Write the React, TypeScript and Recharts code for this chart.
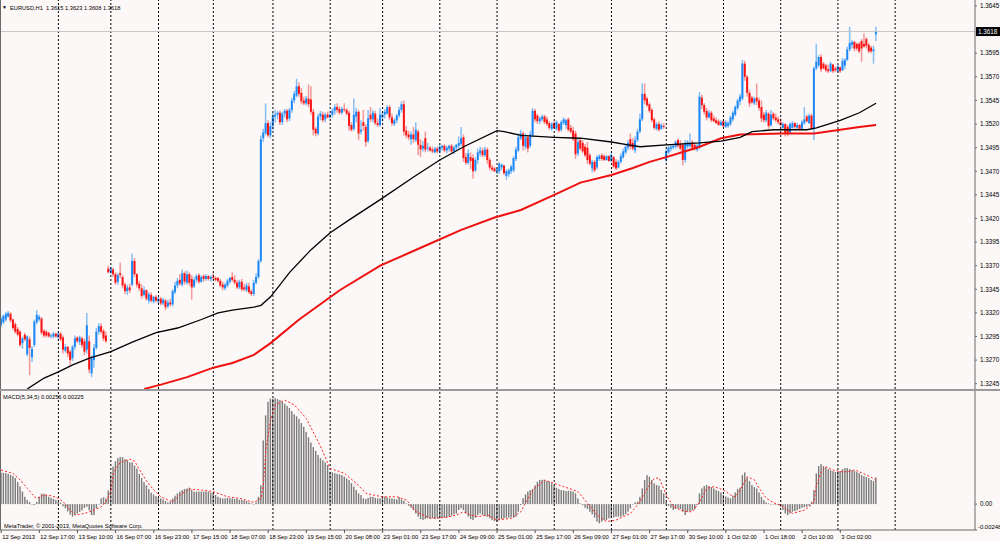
import React from "react";
import { ComposedChart, Bar, Line, XAxis, YAxis, ReferenceLine } from "recharts";

// EURUSD H1, 12 Sep - 3 Oct 2013.
// Prices are pips above 1.3000 (e.g. 618 -> 1.3618), MACD in units of 0.0001.

const FONT = "'Liberation Sans', 'DejaVu Sans', Arial, sans-serif";
const BG = "#FCF8F7";

// [open, high, low, close] per hourly bar
const ohlc: number[][] = [
  // 12-13 Sep
  [307,316,305,314],[310,318,308,317],[313,321,311,319],[316,322,315,320],[319,321,310,312],
  [313,314,302,304],[308,310,298,300],[303,305,295,297],[300,302,284,286],[288,295,282,293],
  [297,299,290,292],[276,296,274,295],[292,295,254,283],[273,285,268,282],[286,313,284,311],
  [310,323,308,318],[313,318,311,316],[314,316,297,299],[301,303,294,296],[300,302,294,296],
  [299,300,294,295],[295,298,293,296],[295,300,293,298],[298,299,294,295],[294,299,293,298],
  [298,300,290,292],[294,296,277,281],[280,287,278,284],[284,285,273,277],[279,281,265,270],
  [272,286,269,284],[284,296,281,293],[294,295,288,290],[289,296,286,294],[293,295,283,286],
  [290,293,275,279],[281,320,277,307],[290,296,256,260],[256,275,252,272],[270,287,262,283],
  [283,304,281,300],[300,309,297,306],[306,309,298,300],[301,303,290,293],[296,300,288,290],
  // 16-18 Sep
  [367,370,362,363],[363,369,361,367],[366,368,358,361],[361,363,350,352],[353,362,350,360],
  [362,373,357,360],[358,360,346,349],[350,352,340,343],[343,350,339,347],[347,351,341,344],
  [350,383,348,375],[375,378,358,361],[361,362,347,350],[351,354,343,346],[346,350,335,338],
  [339,348,337,344],[344,345,333,335],[333,342,330,340],[339,342,331,333],[332,338,330,337],
  [337,339,331,333],[332,337,329,335],[335,337,328,330],[330,336,328,334],[333,335,323,326],
  [327,334,325,331],[331,335,327,329],[329,345,327,343],[342,353,340,349],[349,357,346,354],
  [355,361,349,351],[350,366,348,362],[362,364,350,353],[352,365,350,361],[361,363,349,352],
  [356,360,334,347],[348,358,346,355],[355,361,352,359],[360,362,351,353],[353,360,352,358],
  [359,361,353,356],[356,361,354,359],[359,360,354,356],[356,360,353,358],[358,362,355,357],
  [357,359,353,355],[357,358,352,354],[354,356,347,349],[350,353,344,347],[346,352,344,350],
  [349,356,347,354],[353,358,351,357],[358,363,353,355],[355,360,350,352],[352,355,345,347],
  [347,355,345,353],[353,356,343,345],[347,351,343,345],[344,352,342,349],[348,352,340,342],
  [343,345,338,340],[340,355,338,352],[352,362,350,358],[358,377,356,375],[375,508,373,504],
  // 18-20 Sep
  [505,515,501,511],[510,542,508,521],[521,524,506,508],[508,522,505,518],[518,532,514,528],
  [528,535,522,530],[530,534,525,532],[532,534,519,522],[522,533,519,531],[531,536,527,534],
  [534,536,522,525],[526,537,523,535],[535,548,532,545],[545,555,542,552],[550,568,548,560],
  [560,564,549,552],[553,558,541,544],[545,549,540,542],[542,550,540,547],[547,562,538,541],
  [546,560,530,533],[533,536,508,514],[515,517,507,510],[510,531,508,528],[528,534,524,531],
  [530,533,522,524],[525,532,522,530],[530,533,526,527],[527,531,526,530],[530,537,527,534],
  [534,541,530,538],[538,542,532,535],[536,539,530,532],[532,538,530,536],[536,542,533,535],
  [535,537,529,531],[532,534,513,518],[519,522,512,514],[515,547,513,530],[528,537,522,533],
  [533,535,503,510],[512,524,509,514],[522,535,513,518],[517,520,496,501],[502,535,500,526],
  [530,538,522,525],[525,535,522,532],[531,534,519,521],[521,526,517,519],[519,537,517,530],
  // 23-24 Sep
  [527,533,523,530],[530,536,526,533],[531,540,530,538],[538,540,524,527],[527,531,518,521],
  [520,526,518,524],[524,531,521,529],[529,538,527,535],[535,544,532,541],[541,545,508,512],
  [513,518,505,508],[509,513,503,506],[504,512,498,509],[509,517,500,504],[503,522,501,514],
  [512,514,487,498],[498,504,485,493],[494,502,491,497],[505,512,490,493],[494,500,491,495],
  [495,497,491,492],[493,496,489,491],[490,496,489,494],[494,496,489,491],[491,498,489,496],
  [495,498,492,497],[497,499,490,492],[492,497,489,495],[494,498,491,497],[497,499,489,491],
  [491,497,488,495],[495,499,492,498],[497,507,494,500],[499,517,497,505],[506,509,480,484],
  [485,489,477,479],[479,493,477,489],[485,490,472,481],[484,488,462,470],[471,485,469,482],
  [482,494,478,490],[489,496,486,492],[492,495,485,487],[487,496,485,493],[493,495,478,482],
  [482,484,471,474],[474,477,470,472],[473,475,469,470],[470,474,467,472],
  // 25-27 Sep
  [470,480,467,478],[474,478,471,477],[476,477,466,468],[465,472,461,470],[467,473,464,471],
  [470,477,467,475],[471,486,469,484],[483,496,481,493],[492,510,490,506],[505,514,503,510],
  [510,512,492,497],[496,510,493,506],[506,508,490,494],[497,513,495,509],[508,537,506,534],
  [534,536,522,525],[529,531,520,523],[523,528,520,526],[525,530,523,528],[528,530,520,522],
  [525,528,518,520],[521,523,514,516],[515,522,513,520],[521,523,515,516],[515,524,513,522],
  [520,521,511,513],[514,524,512,522],[521,527,519,525],[519,526,515,524],[525,527,512,514],
  [516,519,510,512],[513,517,502,504],[510,513,483,488],[489,505,486,501],[503,505,492,494],
  [500,503,489,491],[496,499,485,487],[495,501,478,482],[487,489,476,478],[473,482,469,480],
  [480,482,469,471],[474,487,472,485],[483,488,481,486],[487,489,481,483],[486,488,481,482],
  [482,487,481,486],[486,487,480,481],[481,489,480,487],[485,486,473,475],[480,483,471,473],
  [474,482,473,480],[480,489,478,486],[485,494,483,491],[490,498,488,496],[495,503,492,500],
  [504,510,493,496],[500,505,492,494],[492,507,489,503],[503,515,501,512],[512,531,510,525],
  [525,563,523,552],[552,563,541,545],[547,549,538,540],[541,543,532,534],[535,537,522,524],
  [525,527,514,516],[515,522,513,520],[520,523,512,514],[515,521,514,519],[518,521,515,517],
  // 30 Sep - 1 Oct
  [482,493,480,491],[490,497,488,495],[494,498,491,496],[495,499,493,497],[496,503,494,501],
  [503,505,495,497],[499,503,492,494],[498,500,476,482],[482,503,479,500],[496,503,494,501],
  [497,510,495,500],[501,503,492,495],[498,500,492,494],[493,499,491,497],[495,554,493,549],
  [548,551,536,540],[540,542,530,533],[534,537,524,527],[527,535,526,532],[532,534,522,524],
  [526,529,522,523],[524,527,520,521],[523,525,518,519],[519,524,518,522],[523,525,516,518],
  [517,524,516,522],[518,523,516,521],[520,529,518,527],[525,534,523,532],[530,540,528,538],
  [537,547,535,545],[544,552,540,549],[547,588,545,584],
  // 1-3 Oct
  [584,587,566,570],[570,572,549,553],[553,556,538,542],[548,550,541,543],[542,549,540,547],
  [548,563,540,544],[545,548,534,537],[538,545,522,526],[530,533,522,524],[524,535,522,532],
  [531,533,515,518],[519,535,517,530],[531,533,524,526],[527,531,522,524],[525,528,520,522],
  [522,526,517,519],[516,522,515,520],[520,521,507,510],[517,519,507,510],[511,522,510,520],
  [516,523,515,521],[521,522,515,517],[516,521,514,519],[519,520,513,515],[515,524,514,522],
  [521,538,519,525],[528,530,522,523],[521,531,520,529],[529,531,514,516],[515,581,503,579],
  [579,605,577,586],[582,593,580,591],[591,594,575,578],[584,586,578,579],[582,584,575,577],
  [578,583,574,576],[576,586,575,584],[583,584,574,576],[579,581,575,577],[576,583,575,581],
  [580,581,574,576],[577,590,576,587],[582,590,578,588],[588,602,587,599],[599,623,597,606],
  [604,609,600,607],[607,608,597,600],[605,606,598,600],[605,607,595,597],[608,610,586,600],
  [605,616,601,602],[610,612,600,603],[604,606,595,597],[601,603,595,597],[597,603,584,599],
  [615,623,608,618],
];

// MACD(5,34,5) main values (histogram), one per bar
const macdHist: number[] = [
  30,30,29.7,29,28, 27,25,21,17,12, 7,4,2,-0.5,-1, 2,7,10,10,9,
  7,6,5,4,2, 1.5,-2,-4,-7,-10, -12,-10.5,-9,-7.5,-6, -3.5,-2.5,-6,-10.5,-10.5,
  -4,-0.5,5.5,6.5,5.5,
  13,28,36,41,44, 45,45,43,42,40, 40,37,
  34,29,25,21,18, 14.5,11,9.3,7.7,6.5, 5.5,4.5,3,1.6,2.3, 5.5,8,10.3,12,13.5,
  14.5,15,15.7,13.5,12, 12,12,12,12,12, 12,11,10.3,8.7,7, 6,5.5,5.5,6,5.5,
  5.5,5,5,4.2,4, 3.6,3,1.6,0.7,-0.3, 1.6,7,18,
  61,85,98,101,101, 101.5,100.5,99.6,98,96, 94,92,89,86,84, 81.5,77.6,74,69,64,
  59,54.6,51,47,44, 42,40,37.4,
  31,30.4,29.7,29,28.5, 27.8,26.2,24.6,23,20, 16.7,13.5,10.3,8.7,5.5, 4.9,6,7,7,6,
  5.5,5.5,7.7,7,6.5, 5.5,5.5,4.9,4.5,6.7, 4.5,3.2,0.6,-1.6,-3.5, -5.7,-9,-12,-14.3,-15.3,
  -14.3,-13.6,-13.6,-13.6,-14.3, -13.6,-13.6,-13,-13,-12.7, -12,-11,-9.8,-9,-5.7, -4,-5.7,-9,-12,-14.3,
  -15.3,-13,-10.5,-9,-10.5, -11.4,-12,-13.6,-15.3,-16.2, -16.8,-15.3,-14.3,-13.6,-13, -13,-12.7,-13,-12,-7.3,
  -1,5.5,9.3,12,13.5, 14.5,18,21.4,23,23.4, 23,22,21.4,19.8,17.6, 15.7,14.5,13.5,13.2,12.5,
  12.8,12.5,12,10.3,5.5, 0.7,-1,-3.5,-4.7,-7.3, -9.8,-13,-16.8,-18.4,-16.8, -15.5,-15.3,-13.6,-13,-12.7,
  -12,-12,-12,-11,-9.8, -7.3,-4.1,0,1.6,2.3, 7,15,23,27.8,26.2, 23,19.8,18.2,17.6,
  13.5,10.3,2.3,-1.6,-3.5, -5.7,-4.7,-4.1,-4.7,-7.3, -10.5,-7.3,-6.7,-5.7,-4.7, -1,10.3,15,17.3,18.2,
  17.3,16.3,15,13.5,12.5, 11.2,8.7,7.4,6.4,5.5, 8,11.2,14.4,15.7,27.8, 30.4,25.3,22,18.2,16.3,
  15,11.2,7,3.9,1.6, 0.7,0,-0.3,-0.6,-1, -2.5,-5.7,-9,-10.5,-9, -7.3,-6.7,-5.7,-4.7,-3.5,
  -2.9,-2.5,-1.6,2.3,13.5, 29.4,36.4,38.3,36.4,35.4, 33.5,32.6,31.6,30.7,30.7, 31.6,33.5,34.5,34.5,33.5,
  32.6,31.6,30.7,29.7,27.8, 26.8,25.9,24.9,23,22, 25.6,
];

// MACD signal line, read at these bars
const signalBars = [
  0,5,8,11,14,15,18,21,24,26, 29,31,35,39,42,44,46,47,48,50,
  54,56,58,61,64,67,70,72,75,79, 84,89,95,100,106,109,110,111,113,115,
  119,123,128,134,138,144,149,153,156,160, 166,170,174,180,186,191,194,197,200,204,
  208,214,218,221,223,228,230,236,242,246, 250,254,258,264,268,271,274,276,279,282,
  285,288,290,293,296,299,303,306,308,310, 313,316,318,321,324,327,330,332,337,339,
  341,342,344,346,349,352,355,358,360,363, 366,367,
];
const signalVals = [
  32.6,29.4,23,15,7,5.5,8.7,8,5.5,2.3, -5.7,-10.5,-9,-5.7,-2.5,2.3,12,27.8,34,40,
  43,41,33,22,13.5,7,3.9,2.3,8.7,14.4, 13.5,11.9,7,5.5,1.6,5.5,18,52,80,95,
  99.6,95,82,55,34.2,29.4,19.9,10.3,8.7,7, 7,3.9,-7.3,-13.6,-13,-10.5,-7.3,-10.5,-12,-10.5,
  -15.2,-13.6,-7.3,5.5,13.5,23,21.4,16.7,11.9,0.7, -10.5,-16.8,-15.2,-8.9,2.3,15.1,24.6,25,8.7,-2.5,
  -5.7,-7.3,-7.3,2.3,15.1,16.7,13.5,8.7,7,13.5, 26.2,23,15.1,5.5,1.3,-0.9,-5.7,-8.9,-5.7,-2.5,
  2.3,18.2,31,35.8,32.6,31,31,32.6,31,27.8, 24.6,22.5,
];

// black moving average
const maFastBars = [
  11,18,24,30,37,46,55,65,74,84, 91,97,106,109,113,121,130,138,146,159,
  173,184,194,208,211,218,232,243,256,263, 268,279,293,302,310,315,324,338,342,352, 360,367,
];
const maFastVals = [
  239.5,251,257.5,265,272,279,289,299,304,313, 320,323,326,328,337,363,387,405,418.5,440,
  464,482,496,513,512,508,506,505,501,498, 496,498,500,502,506,512,514,514,516,524, 532,542,
];

// red moving average
const maSlowBars = [
  60,67,78,89,97,106,113,125,142,159, 176,193,207,218,232,243,256,265,272,279,
  288,293,302,310,327,341,352,360,367,
];
const maSlowVals = [
  239.5,244,252,262,267,275.5,288,313,344,370, 389,408,421,429,445,458,466,473.5,480,485,
  492,496,505,509,510,510,514,517,519,
];

const timeLabels = [
  "12 Sep 2013", "12 Sep 17:00", "13 Sep 10:00", "16 Sep 07:00", "16 Sep 23:00",
  "17 Sep 15:00", "18 Sep 07:00", "18 Sep 23:00", "19 Sep 15:00", "20 Sep 08:00",
  "23 Sep 01:00", "23 Sep 17:00", "24 Sep 09:00", "25 Sep 01:00", "25 Sep 17:00",
  "26 Sep 09:00", "27 Sep 01:00", "27 Sep 17:00", "30 Sep 10:00", "1 Oct 02:00",
  "1 Oct 18:00", "2 Oct 10:00", "3 Oct 02:00",
];
const labelBars = [
  0,16,32,48,64,80,96,112,128,144,160,176,192,208,224,240,256,272,288,304,320,336,352,
];
const dayLineBars = [24,46,66,89,114,138,160,184,208,232,256,279,303,327,351,375];
const priceTicks = [245,270,295,320,345,370,395,420,445,470,495,520,545,570,595,645];
const macdTicks = [108.3, 0, -24.8];

const SLOTS = 409; // empty space kept right of the last bar

const fmtPrice = (v: number) => (1.3 + v / 10000).toFixed(4);
const fmtMacd = (v: number) => (v === 0 ? "0.00" : (v / 10000).toFixed(5));

const last = ohlc[ohlc.length - 1];

const rows = Array.from({ length: SLOTS }, (_, i) => {
  const c = ohlc[i];
  return {
    i,
    o: c ? c[0] : null,
    h: c ? c[1] : null,
    l: c ? c[2] : null,
    c: c ? c[3] : null,
    range: c ? [c[2], c[1]] : null,
    hist: i < macdHist.length ? macdHist[i] : null,
    signal: null as number | null,
    maFast: null as number | null,
    maSlow: null as number | null,
  };
});
signalBars.forEach((b, k) => (rows[b].signal = signalVals[k]));
maFastBars.forEach((b, k) => (rows[b].maFast = maFastVals[k]));
maSlowBars.forEach((b, k) => (rows[b].maSlow = maSlowVals[k]));

const Candle = (props: any) => {
  const { x, y, width, height, index } = props;
  const p = props.payload ?? rows[index];
  if (!p || p.o == null || !isFinite(y)) return <g />;
  const span = p.h - p.l || 1;
  const py = (v: number) => y + ((p.h - v) / span) * height;
  const cx = x + width / 2;
  const up = p.c >= p.o;
  const top = py(Math.max(p.o, p.c));
  const bot = py(Math.min(p.o, p.c));
  return (
    <g>
      <line x1={cx} x2={cx} y1={py(p.h)} y2={py(p.l)} stroke={up ? "#86BEF6" : "#F49898"} strokeWidth={1.5} />
      <rect x={cx - 1} y={top} width={2} height={Math.max(bot - top, 0.8)} fill={up ? "#1E88F5" : "#FA1414"} />
    </g>
  );
};

const HistBar = (props: any) => {
  const { x, y, width, height } = props;
  if (!isFinite(y) || height == null) return <g />;
  const top = Math.min(y, y + height);
  return <rect x={x + width / 2 - 0.7} y={top} width={1.4} height={Math.max(Math.abs(height), 0.5)} fill="#7A7A7A" />;
};

const PriceTag = (props: any) => {
  const vb = props.viewBox || {};
  const x = vb.x + vb.width + 1;
  const y = vb.y;
  return (
    <g>
      <rect x={x} y={y - 4.5} width={24} height={9} fill="#000" />
      <text x={x + 2} y={y + 2.2} fontSize={6.3} fill="#fff" fontFamily={FONT}>
        {fmtPrice(last[3])}
      </text>
    </g>
  );
};

const TimeTick = (props: any) => {
  const { x, y, payload } = props;
  const k = labelBars.indexOf(payload.value);
  return (
    <g>
      <line x1={x} x2={x} y1={y} y2={y + 3} stroke="#555" />
      <text x={x + 1} y={y + 8.5} fontSize={5.8} fill="#000" fontFamily={FONT}>
        {timeLabels[k]}
      </text>
    </g>
  );
};

const MacdTick = (props: any) => {
  const { x, y, payload } = props;
  const v = payload.value;
  const dy = v > 50 ? 8 : v < 0 ? -1 : 2;
  const dx = v < 0 ? -2 : 0;
  return (
    <text x={x + dx} y={y + dy} fontSize={v < 0 ? 5.9 : 6.3} fill="#000" fontFamily={FONT}>
      {fmtMacd(v)}
    </text>
  );
};

export default function App() {
  const header = `EURUSD,H1  ${fmtPrice(last[0])} ${fmtPrice(last[1])} ${fmtPrice(last[2])} ${fmtPrice(last[3])}`;
  return (
    <div style={{ position: "relative", width: 1000, height: 541, background: BG, overflow: "hidden" }}>
      <style>{"body{margin:0}"}</style>

      <div style={{ position: "absolute", left: 0, top: 0 }}>
        <ComposedChart width={1000} height={390} data={rows} margin={{ top: 0, right: 0, bottom: 1, left: 0 }} barCategoryGap={0}>
          <XAxis dataKey="i" hide />
          <YAxis
            orientation="right"
            type="number"
            domain={[239.4, 651.4]}
            allowDataOverflow
            ticks={priceTicks}
            tickFormatter={fmtPrice}
            width={25}
            tickSize={2}
            tickMargin={3}
            tick={{ fontSize: 6.3, fill: "#000", fontFamily: FONT }}
            axisLine={{ stroke: "#6A6A6A" }}
            tickLine={{ stroke: "#6A6A6A" }}
          />
          {dayLineBars.map((b) => (
            <ReferenceLine key={b} x={b} stroke="#000" strokeDasharray="2 2" strokeWidth={1} />
          ))}
          <ReferenceLine y={last[3]} stroke="#C6C6C6" strokeWidth={1} label={<PriceTag />} />
          <Bar dataKey="range" shape={Candle} isAnimationActive={false} />
          <Line dataKey="maSlow" type="linear" stroke="#F01010" strokeWidth={2} dot={false} connectNulls isAnimationActive={false} />
          <Line dataKey="maFast" type="linear" stroke="#000" strokeWidth={1.3} dot={false} connectNulls isAnimationActive={false} />
        </ComposedChart>
      </div>

      <div style={{ position: "absolute", left: 0, top: 390 }}>
        <ComposedChart width={1000} height={151} data={rows} margin={{ top: 1, right: 0, bottom: 0, left: 0 }} barCategoryGap={0}>
          <XAxis
            dataKey="i"
            height={11}
            ticks={labelBars}
            interval={0}
            tickSize={0}
            tickMargin={0}
            tickLine={false}
            axisLine={{ stroke: "#6A6A6A" }}
            tick={<TimeTick />}
          />
          <YAxis
            orientation="right"
            type="number"
            domain={[-24.8, 108.3]}
            allowDataOverflow
            ticks={macdTicks}
            width={25}
            tickSize={2}
            tickMargin={3}
            tick={<MacdTick />}
            axisLine={{ stroke: "#6A6A6A" }}
            tickLine={{ stroke: "#6A6A6A" }}
          />
          {dayLineBars.map((b) => (
            <ReferenceLine key={b} x={b} stroke="#000" strokeDasharray="2 2" strokeWidth={1} />
          ))}
          <Bar dataKey="hist" shape={HistBar} isAnimationActive={false} />
          <Line dataKey="signal" type="linear" stroke="#FF2020" strokeWidth={1} strokeDasharray="2 2" dot={false} connectNulls isAnimationActive={false} />
        </ComposedChart>
      </div>

      <svg width={1000} height={541} style={{ position: "absolute", left: 0, top: 0, pointerEvents: "none" }}>
        <line x1={0.5} x2={0.5} y1={0} y2={530} stroke="#6A6A6A" />
        <rect x={0} y={389} width={1000} height={2} fill="#9A9A9A" />
        <text x={2} y={9} fontSize={5} fill="#000" fontFamily={FONT}>▼</text>
        <text x={10} y={9.5} fontSize={5.7} fill="#000" fontFamily={FONT} style={{ whiteSpace: "pre" }}>
          {header}
        </text>
        <text x={3} y={399} fontSize={5.7} fill="#000" fontFamily={FONT}>
          {`MACD(5,34,5) ${fmtMacd(macdHist[macdHist.length - 1])} ${fmtMacd(signalVals[signalVals.length - 1])}`}
        </text>
        <text x={4} y={527.5} fontSize={5.7} fill="#000" fontFamily={FONT}>
          MetaTrader, © 2001-2013, MetaQuotes Software Corp.
        </text>
      </svg>
    </div>
  );
}
